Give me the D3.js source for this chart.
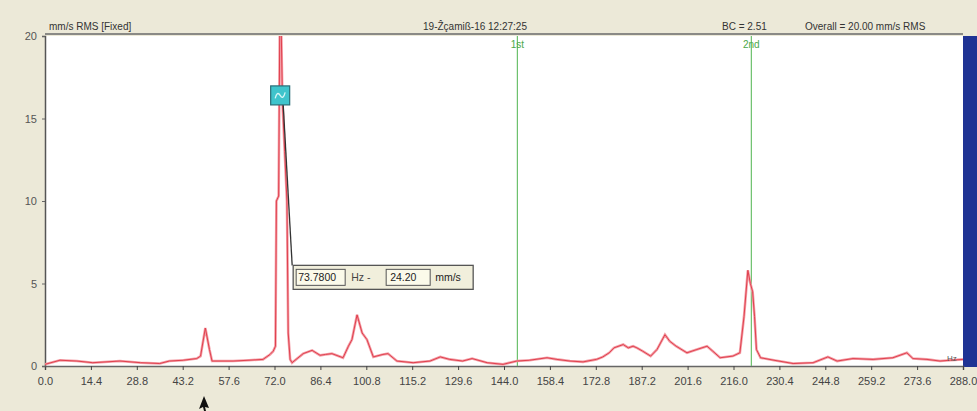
<!DOCTYPE html>
<html>
<head>
<meta charset="utf-8">
<script src="https://cdn.jsdelivr.net/npm/d3@7"></script>
<style>
  body { margin: 0; background: #ece9d8; }
  svg { display: block; font-family: 'Liberation Sans', Arial, sans-serif; }
</style>
</head>
<body>
<svg width="977" height="411"></svg>
<script>
// spectrum (Hz, mm/s)
var freqs = [0, 4.7, 10, 15, 23.5, 30, 36, 39, 43.4, 47.6, 48.8, 50.3, 51.6, 52.4, 59, 64, 68.4, 70.6,
  71.6, 72.3, 72.6, 73.3, 73.78, 74.5, 75.2, 75.9, 76.3, 76.9, 77.5,
  81, 83.8, 86.3, 88, 90, 93.5, 95.2, 96.3, 97.9, 99.5, 101, 103, 106, 107.6, 110.4,
  115.5, 120.8, 124, 127, 131, 134, 138.7, 143.7, 148, 152, 157.5, 160.6, 164.7, 168.8,
  173, 175, 177, 178.5, 181.4, 183, 184.5, 185.7, 187.5, 190, 192, 194.5, 196, 198,
  201.4, 204.5, 207.7, 209.5, 211.8, 215.8, 218, 219.3, 220.5, 221.3, 222, 222.6, 223.2,
  224.5, 228.7, 234.7, 241, 245.6, 248.5, 253.5, 259.8, 266, 270.4, 272.3, 276.7, 280.8, 284, 288]
var amps = [0.1, 0.35, 0.3, 0.2, 0.3, 0.2, 0.15, 0.3, 0.35, 0.45, 0.6, 2.3, 1.0, 0.3, 0.3, 0.35, 0.4, 0.7,
  0.9, 1.2, 10, 10.3, 24.2, 16, 13, 10, 2, 0.4, 0.2,
  0.75, 0.95, 0.65, 0.7, 0.75, 0.5, 1.2, 1.6, 3.1, 2.0, 1.6, 0.55, 0.7, 0.75, 0.3,
  0.2, 0.3, 0.55, 0.4, 0.3, 0.45, 0.2, 0.1, 0.3, 0.35, 0.5, 0.4, 0.3, 0.25,
  0.4, 0.55, 0.8, 1.1, 1.3, 1.1, 1.2, 1.1, 0.9, 0.6, 1.0, 1.9, 1.5, 1.2,
  0.8, 1.0, 1.2, 0.9, 0.5, 0.6, 0.8, 3.0, 5.8, 5.0, 4.5, 3.0, 1.0,
  0.5, 0.35, 0.15, 0.2, 0.55, 0.3, 0.45, 0.4, 0.5, 0.8, 0.45, 0.4, 0.3, 0.35, 0.4]

var xTicks = [0, 14.4, 28.8, 43.2, 57.6, 72.0, 86.4, 100.8, 115.2, 129.6, 144.0, 158.4, 172.8,
  187.2, 201.6, 216.0, 230.4, 244.8, 259.2, 273.6, 288.0]
var yTicks = [0, 5, 10, 15, 20]

var cursors = [{ name: '1st', f: 148.2 }, { name: '2nd', f: 221.6 }]
var peakF = 73.78, peakA = 24.20, markerA = 16.4

var svg = d3.select('svg')
var pLeft = 45, pRight = 963, pTop = 36, pBottom = 366

var x = d3.scaleLinear().domain([0, 288]).range([pLeft, pRight])
var y = d3.scaleLinear().domain([0, 20]).range([pBottom, pTop])

// plot area
svg.append('rect').attr('x', pLeft).attr('y', pTop).attr('width', pRight - pLeft).attr('height', pBottom - pTop).attr('fill', '#fff')
svg.append('rect').attr('x', pRight).attr('y', pTop).attr('width', 977 - pRight).attr('height', pBottom - pTop + 1).attr('fill', '#1f3394')

svg.append('clipPath').attr('id', 'clip')
  .append('rect').attr('x', pLeft).attr('y', pTop).attr('width', pRight - pLeft).attr('height', pBottom - pTop)

// header
svg.append('line').attr('x1', pLeft).attr('x2', pRight).attr('y1', pTop - 2).attr('y2', pTop - 2)
  .attr('stroke', '#8a8a86').attr('stroke-width', 2)
var hdr = svg.append('g').attr('font-size', 10).attr('fill', '#333')
hdr.append('text').attr('x', 49).attr('y', 30).text('mm/s RMS [Fixed]')
hdr.append('text').attr('x', 475).attr('y', 30).attr('text-anchor', 'middle').text('19-Ẑçamiß-16 12:27:25')
hdr.append('text').attr('x', 722).attr('y', 30).text('BC = 2.51')
hdr.append('text').attr('x', 805).attr('y', 30).text('Overall = 20.00 mm/s RMS')

// axes
var xAxis = d3.axisBottom(x).tickValues(xTicks).tickSize(4).tickFormat(d3.format('.1f'))
var gx = svg.append('g').attr('transform', 'translate(0,' + pBottom + ')').call(xAxis)
gx.select('.domain').attr('stroke', '#666').attr('stroke-width', 1.5)
gx.selectAll('.tick line').attr('stroke', '#444')
gx.selectAll('.tick text').attr('fill', '#444').attr('font-size', 11).attr('dy', '1.05em')
  .attr('font-family', 'Liberation Sans, Arial, sans-serif')

var yAxis = d3.axisLeft(y).tickValues(yTicks).tickSize(3).tickFormat(d3.format('d'))
var gy = svg.append('g').attr('transform', 'translate(' + pLeft + ',0)').call(yAxis)
gy.select('.domain').attr('stroke', '#555').attr('stroke-width', 1.5)
gy.selectAll('.tick line').attr('stroke', '#666')
gy.selectAll('.tick text').attr('fill', '#555').attr('font-size', 11)
  .attr('font-family', 'Liberation Sans, Arial, sans-serif').attr('x', -8)

// harmonic cursors
var cg = svg.append('g')
cursors.forEach(c => {
  cg.append('line').attr('x1', x(c.f)).attr('x2', x(c.f)).attr('y1', pTop).attr('y2', pBottom)
    .attr('stroke', '#6cc06c').attr('stroke-width', 1.2)
  cg.append('text').attr('x', x(c.f)).attr('y', pTop + 12).attr('text-anchor', 'middle')
    .attr('font-size', 10).attr('fill', '#4aa84a').text(c.name)
})

// spectrum
var pts = freqs.map((f, i) => [f, amps[i]])
var line = d3.line().x(d => x(d[0])).y(d => y(d[1]))
var plot = svg.append('g').attr('clip-path', 'url(#clip)')
plot.append('path').datum(pts).attr('d', line).attr('fill', 'none')
  .attr('stroke', '#f4a0a8').attr('stroke-width', 2.6)
plot.append('path').datum(pts).attr('d', line).attr('fill', 'none')
  .attr('stroke', '#e0404e').attr('stroke-width', 1)

svg.append('text').attr('x', 947).attr('y', 361).attr('font-size', 8).attr('fill', '#555').text('Hz')

// peak marker + readout
var mx = x(peakF), my = y(markerA)
svg.append('line').attr('x1', mx + 3).attr('y1', my + 9).attr('x2', mx + 12).attr('y2', y(6.1))
  .attr('stroke', '#333').attr('stroke-width', 1.3)
var mk = svg.append('g').attr('transform', 'translate(' + mx + ',' + my + ')')
mk.append('rect').attr('x', -9.5).attr('y', -9.5).attr('width', 19).attr('height', 19)
  .attr('fill', '#3fc4cc').attr('stroke', '#2a6f78').attr('stroke-width', 1.2)
mk.append('path').attr('d', 'M-5,3 Q-3,-5 0,0 Q3,5 5,-3').attr('fill', 'none').attr('stroke', '#d8f6f6').attr('stroke-width', 1.3)

var bx = mx + 13, by = y(6.1)
var box = svg.append('g').attr('transform', 'translate(' + bx + ',' + by + ')')
  .attr('font-size', 10.5).attr('fill', '#222')
box.append('rect').attr('width', 180).attr('height', 24).attr('fill', '#f1efdc').attr('stroke', '#555').attr('stroke-width', 1.3)
box.append('rect').attr('x', 3).attr('y', 4).attr('width', 49).attr('height', 16).attr('fill', '#fbfaea').attr('stroke', '#555')
box.append('text').attr('x', 5).attr('y', 16).text(peakF.toFixed(4))
box.append('text').attr('x', 58).attr('y', 16).attr('fill', '#444').text('Hz  -')
box.append('rect').attr('x', 93).attr('y', 4).attr('width', 44).attr('height', 16).attr('fill', '#fbfaea').attr('stroke', '#555')
box.append('text').attr('x', 97).attr('y', 16).text(peakA.toFixed(2))
box.append('text').attr('x', 142).attr('y', 16).text('mm/s')

// mouse pointer
svg.append('path').attr('d', 'M204,396 L199,409 L203,407 L204,411 L206,411 L205,407 L209,408 Z')
  .attr('fill', '#111')
</script>
</body>
</html>
